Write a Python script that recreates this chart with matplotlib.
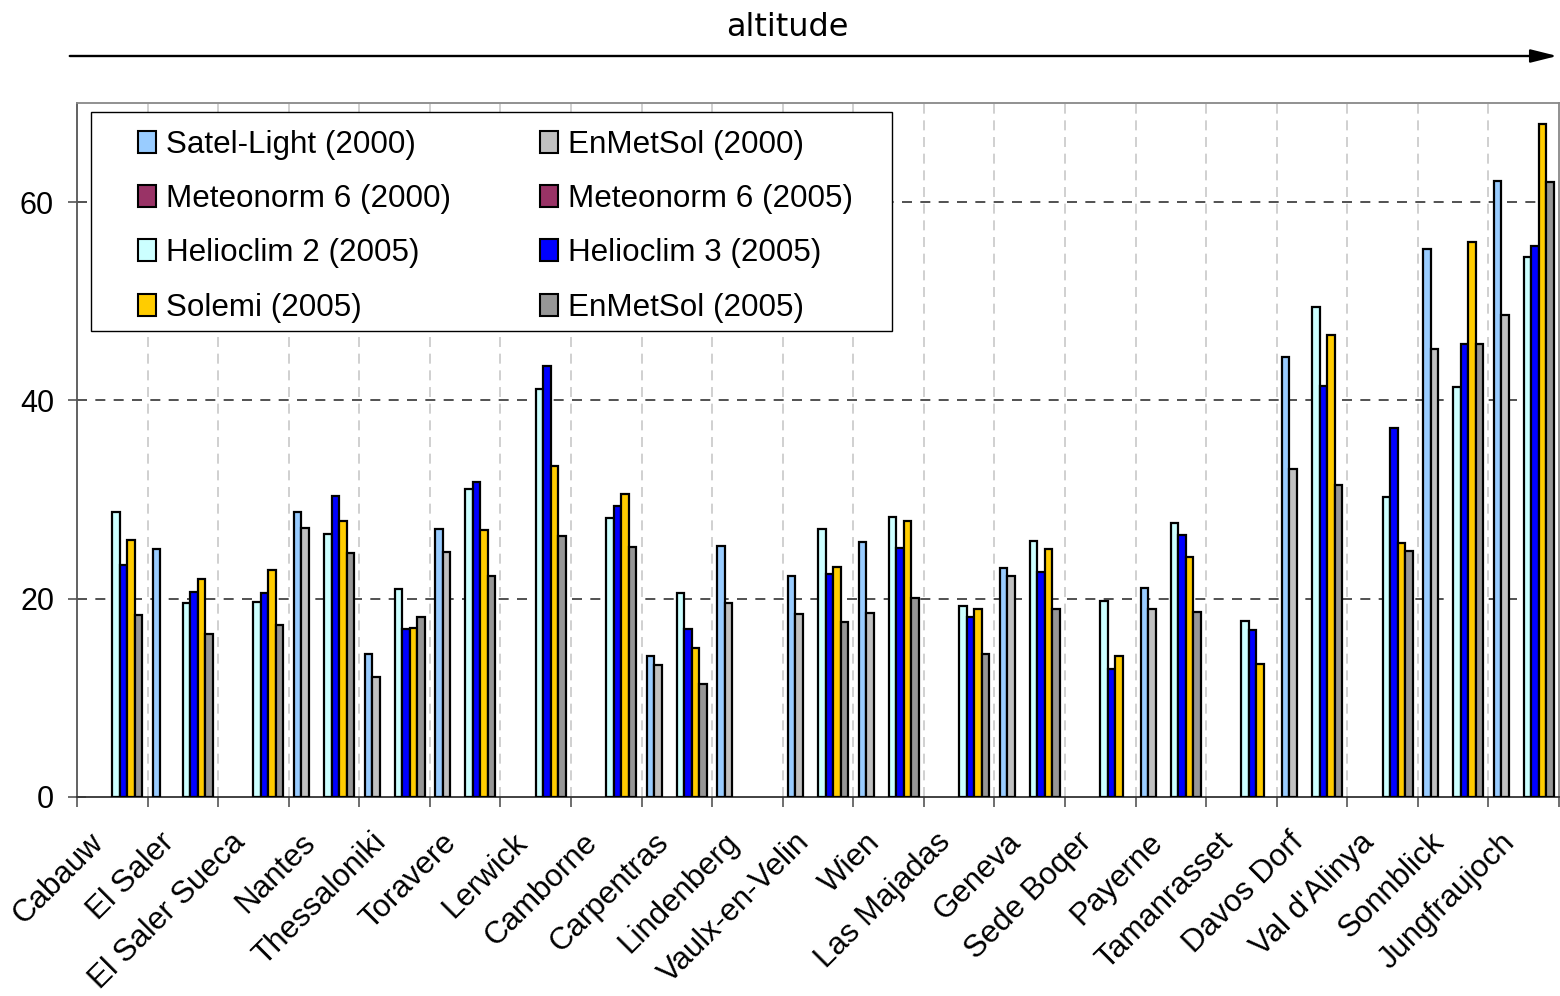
import numpy as np
import matplotlib
matplotlib.use("Agg")
import matplotlib.pyplot as plt
import matplotlib.transforms as mtransforms
from matplotlib.patches import Rectangle, FancyArrowPatch

nan = np.nan

stations = ["Cabauw", "El Saler", "El Saler Sueca", "Nantes", "Thessaloniki",
            "Toravere", "Lerwick", "Camborne", "Carpentras", "Lindenberg",
            "Vaulx-en-Velin", "Wien", "Las Majadas", "Geneva", "Sede Boqer",
            "Payerne", "Tamanrasset", "Davos Dorf", "Val d'Alinya", "Sonnblick",
            "Jungfraujoch"]

satel_2000 = [nan, 25.0, nan, 28.7, 14.4, 27.0, nan, nan, 14.2, 25.3, 22.3,
              25.7, nan, 23.1, nan, 21.1, nan, 44.4, nan, 55.3, 62.1]
enmetsol_2000 = [nan, nan, nan, 27.1, 12.1, 24.7, nan, nan, 13.3, 19.6, 18.5,
                 18.6, nan, 22.3, nan, 19.0, nan, 33.1, nan, 45.2, 48.6]
meteonorm_2000 = [nan] * 21
meteonorm_2005 = [nan] * 21
helioclim2 = [28.7, 19.6, 19.7, 26.5, 21.0, 31.1, 41.2, 28.1, 20.6, nan, 27.0,
              28.2, 19.3, 25.8, 19.8, 27.6, 17.8, 49.4, 30.3, 41.4, 54.5]
helioclim3 = [23.4, 20.7, 20.6, 30.4, 16.9, 31.8, 43.5, 29.4, 16.9, nan, 22.5,
              25.1, 18.2, 22.7, 12.9, 26.4, 16.8, 41.5, 37.2, 45.7, 55.6]
solemi = [25.9, 22.0, 22.9, 27.8, 17.0, 26.9, 33.4, 30.6, 15.0, nan, 23.2,
          27.8, 19.0, 25.0, 14.2, 24.2, 13.4, 46.6, 25.6, 56.0, 67.9]
enmetsol_2005 = [18.4, 16.4, 17.3, 24.6, 18.2, 22.3, 26.3, 25.2, 11.4, nan, 17.7,
                 20.1, 14.4, 19.0, nan, 18.7, nan, 31.5, 24.8, 45.7, 62.0]

# series in plotting order (excel order)
series = [
    ("Satel-Light (2000)", satel_2000, "#99CCFF"),
    ("EnMetSol (2000)", enmetsol_2000, "#C0C0C0"),
    ("Meteonorm 6 (2000)", meteonorm_2000, "#993366"),
    ("Meteonorm 6 (2005)", meteonorm_2005, "#993366"),
    ("Helioclim 2 (2005)", helioclim2, "#CCFFFF"),
    ("Helioclim 3 (2005)", helioclim3, "#0000FF"),
    ("Solemi (2005)", solemi, "#FFCC00"),
    ("EnMetSol (2005)", enmetsol_2005, "#969696"),
]

W, H = 1560, 996
fig = plt.figure(figsize=(W / 100, H / 100), dpi=100)
ax = fig.add_axes([77 / W, 1 - 797 / H, (1559 - 77) / W, (797 - 103) / H])

x = np.arange(len(stations))
w = 7.5 / 70.57
handles = {}
for k, (name, vals, col) in enumerate(series):
    ax.bar(x + (k - 3.5) * w, vals, width=w, color=col, edgecolor="black",
           linewidth=1.6, zorder=3)
    handles[name] = Rectangle((0, 0), 1, 1, facecolor=col, edgecolor="black", linewidth=1.5)

ax.set_xlim(-0.5, len(stations) - 0.5)
ax.set_ylim(0, 70)
ax.set_yticks([0, 20, 40, 60])
ax.set_yticklabels(["0", "20", "40", "60"], fontfamily="Liberation Sans", fontsize=22)
ax.tick_params(axis="y", direction="inout", length=13, width=1.2, color="#555555", pad=10)

# major ticks at category boundaries, labels on minor ticks at centres
ax.set_xticks(np.arange(-0.5, len(stations), 1.0))
ax.set_xticklabels([])
ax.set_xticks(x, minor=True)
ax.set_xticklabels(stations, minor=True, fontfamily="Liberation Sans", fontsize=22.5,
                   rotation=45, ha="right", va="center", rotation_mode="anchor")
ax.tick_params(axis="x", which="major", direction="out", length=7, width=1.2, color="#555555")
ax.tick_params(axis="x", which="minor", length=0, pad=33)
shift = mtransforms.ScaledTranslation(-0.13, 0.05, fig.dpi_scale_trans)
for lab in ax.get_xticklabels(minor=True):
    lab.set_transform(lab.get_transform() + shift)

for yv in [20, 40, 60]:
    ax.axhline(yv, color="#333333", linewidth=1.2, dashes=(6, 5), zorder=1)
for xv in np.arange(0.5, len(stations) - 1, 1.0):
    ax.axvline(xv, color="#C8C8C8", linewidth=1.2, dashes=(6, 4), zorder=1)

ax.spines["left"].set_color("#555555")
ax.spines["bottom"].set_color("#333333")
ax.spines["top"].set_color("#888888")
ax.spines["right"].set_color("#888888")
for s in ax.spines.values():
    s.set_linewidth(1.3)

# legend, row-wise like the original (matplotlib fills by column)
order = ["Satel-Light (2000)", "Meteonorm 6 (2000)", "Helioclim 2 (2005)", "Solemi (2005)",
         "EnMetSol (2000)", "Meteonorm 6 (2005)", "Helioclim 3 (2005)", "EnMetSol (2005)"]
fig.add_artist(Rectangle((91 / W, 1 - 331 / H), 801 / W, 219 / H, transform=fig.transFigure,
                         facecolor="white", edgecolor="black", linewidth=1.0, zorder=4))
leg = fig.legend([handles[n] for n in order], order, ncol=2, frameon=False,
                 loc="upper left", bbox_to_anchor=(138 / W, 1 - 129.5 / H),
                 bbox_transform=fig.transFigure, borderpad=0, borderaxespad=0,
                 handlelength=0.58, handleheight=0.7, handletextpad=0.3,
                 columnspacing=2.85, labelspacing=0.78,
                 prop={"family": "Liberation Sans", "size": 22.6})
leg.set_zorder(5)

# altitude arrow on top
fig.add_artist(FancyArrowPatch((67 / W, 1 - 56 / H), (1560 / W, 1 - 56 / H),
                               transform=fig.transFigure,
                               arrowstyle="-|>,head_length=0.8,head_width=0.2",
                               mutation_scale=20, color="black", linewidth=1.7))
fig.text(787 / W, 1 - 28 / H, "altitude", ha="center", va="center",
         fontfamily="DejaVu Sans", fontsize=23)

fig.savefig("out.png", dpi=100)
